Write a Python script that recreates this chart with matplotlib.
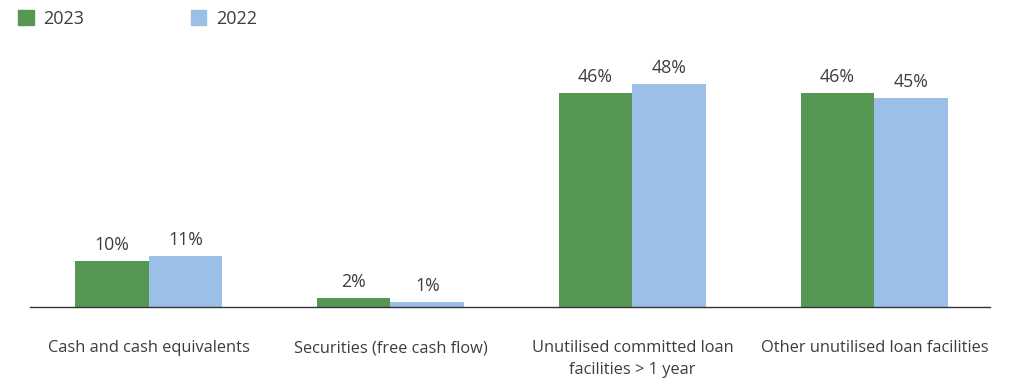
import matplotlib
matplotlib.use('Agg')
import matplotlib.pyplot as plt
import numpy as np
from matplotlib.patches import Patch

categories = ['Cash and cash equivalents', 'Securities (free cash flow)',
              'Unutilised committed loan\nfacilities > 1 year', 'Other unutilised loan facilities']
vals_2023 = [10, 2, 46, 46]
vals_2022 = [11, 1, 48, 45]
series = ['2023', '2022']

green = '#569853'
blue = '#9BBFE6'
txt = '#3d3d3d'

plt.rcParams['font.family'] = ['Open Sans', 'DejaVu Sans']

fig = plt.figure(figsize=(10.25, 3.8), dpi=100)
ax = fig.add_axes([0.0293, 0.192, 0.937, 0.611])

x = np.arange(len(categories))
w = 0.305
b1 = ax.bar(x - w/2, vals_2023, w, color=green)
b2 = ax.bar(x + w/2, vals_2022, w, color=blue)

for bars, vals in ((b1, vals_2023), (b2, vals_2022)):
    for b, v in zip(bars, vals):
        ax.annotate(f'{v}%', (b.get_x() + b.get_width()/2, v), xytext=(0, 5),
                    textcoords='offset points', ha='center', va='bottom',
                    fontsize=12.8, color=txt)

ax.set_xlim(-0.49, 3.48)
ax.set_ylim(0, 50)
ax.set_xticks(x)
ax.set_xticklabels(categories, fontsize=11.8, color=txt, linespacing=1.45, va='top')
ax.tick_params(axis='x', length=0, pad=24)
ax.set_yticks([])
for s in ['top', 'right', 'left']:
    ax.spines[s].set_visible(False)
ax.spines['bottom'].set_color('#333333')
ax.spines['bottom'].set_linewidth(1)

handles = [Patch(color=green), Patch(color=blue)]
fig.legend(handles, series, loc='upper left', bbox_to_anchor=(0.002, 1.017), ncol=2,
           frameon=False, fontsize=13, handlelength=0.85, handleheight=0.85,
           handletextpad=0.55, columnspacing=5.9, labelcolor=txt)

fig.savefig('out.png', dpi=100)
